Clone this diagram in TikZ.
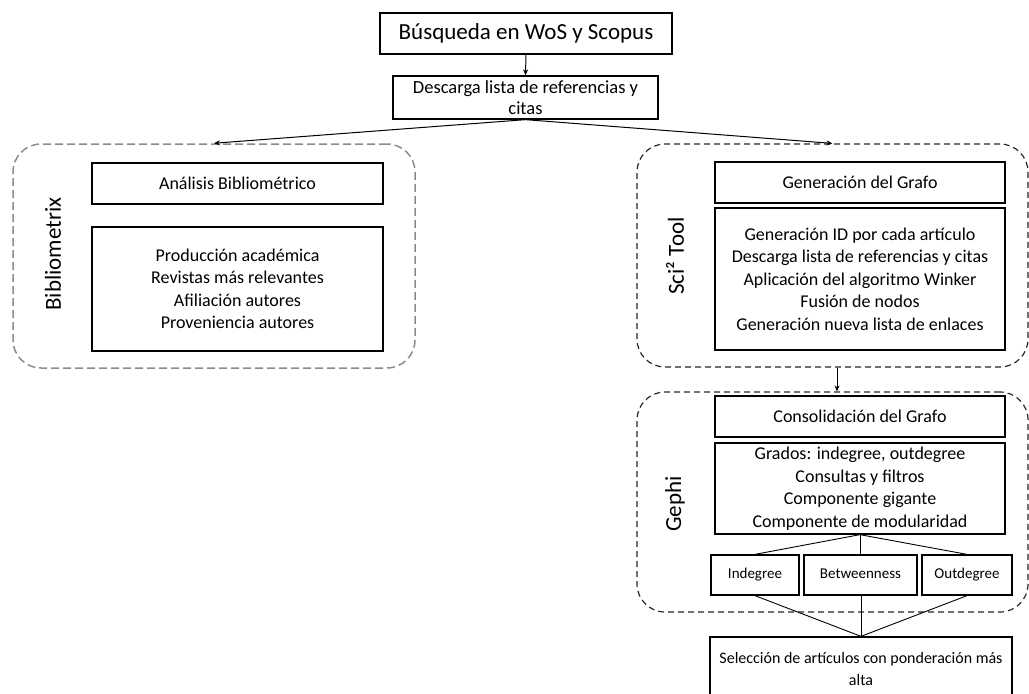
\documentclass[tikz,border=0pt]{standalone}
\usepackage{fontspec}
\setmainfont{Carlito}
\usetikzlibrary{arrows.meta}
\begin{document}
\begin{tikzpicture}[x=1pt,y=-1pt,
  box/.style={draw=black, line width=1.3pt, inner sep=0pt, align=center,
    font=\fontsize{18}{22.5}\selectfont},
  smallbox/.style={box, font=\fontsize{15}{18}\selectfont, text height=10.5pt, text depth=3.5pt},
  grpgray/.style={draw=black!45, dash pattern=on 8pt off 4pt, line width=1.5pt,
    rounded corners=28pt, inner sep=0pt},
  grpdark/.style={draw=black!85, dash pattern=on 6pt off 4pt, line width=1.2pt,
    rounded corners=28pt, inner sep=0pt},
  conn/.style={draw, line width=1pt, -{Stealth[length=6pt,width=5pt]}},
  link/.style={draw, line width=0.9pt},
  side/.style={rotate=90, inner sep=0pt, font=\fontsize{23}{26}\selectfont}
]
\useasboundingbox (0,0) rectangle (1029,694);

% top
\node[box, font=\fontsize{23}{26}\selectfont, minimum width=292, minimum height=41] (busq) at (526,33.5) {Búsqueda en WoS y Scopus};
\node[box, font=\fontsize{18.5}{21}\selectfont, minimum width=265, minimum height=43] (desc) at (525.5,97.5) {Descarga lista de referencias y\\citas};

% Bibliometrix group
\node[grpgray, minimum width=402, minimum height=224] (bib) at (214,256) {};
\node[side] (bibl) at (53,254) {Bibliometrix};
\node[box, minimum width=291, minimum height=41] (anal) at (237.5,183.5) {Análisis Bibliométrico};
\node[box, minimum width=291, minimum height=124] (biblist) at (237.5,289) {Producción académica\\Revistas más relevantes\\Afiliación autores\\Proveniencia autores};

% Sci2 group
\node[grpdark, minimum width=391, minimum height=223] (sci) at (832.5,255.5) {};
\node[side] (scil) at (675,256) {Sci² Tool};
\node[box, minimum width=290, minimum height=41] (gen) at (860,182.5) {Generación del Grafo};
\node[box, minimum width=290, minimum height=142] (genlist) at (860,279) {Generación ID por cada artículo\\Descarga lista de referencias y citas\\Aplicación del algoritmo Winker\\Fusión de nodos\\Generación nueva lista de enlaces};

% Gephi group
\node[grpdark, minimum width=391, minimum height=220] (gephi) at (832.5,502) {};
\node[side] (gephil) at (675,504) {Gephi};
\node[box, minimum width=290, minimum height=41] (cons) at (860,416.5) {Consolidación del Grafo};
\node[box, font=\fontsize{18}{22.7}\selectfont, minimum width=290, minimum height=91] (conslist) at (860,488.5) {\rule{0pt}{13pt}Grados: indegree, outdegree\\Consultas y filtros\\Componente gigante\\Componente de modularidad};
\node[smallbox, minimum width=88, minimum height=40] (ind) at (755,575) {Indegree};
\node[smallbox, minimum width=113, minimum height=40] (bet) at (860.5,575) {Betweenness};
\node[smallbox, minimum width=90, minimum height=40] (out) at (967,575) {Outdegree};

% final
\node[box, font=\fontsize{16}{22}\selectfont, minimum width=302, minimum height=64] (sel) at (861,669) {Selección de artículos con ponderación más\\alta};

% connectors
\draw[conn] (busq.south) -- (desc.north);
\draw[conn] (desc.south) -- (bib.north);
\draw[conn] (desc.south) -- (sci.north);
\draw[conn] (sci.south -| 837,0) -- (gephi.north -| 837,0);
\draw[link] (conslist.south) -- (ind.north);
\draw[link] (conslist.south) -- (bet.north -| conslist.south);
\draw[link] (conslist.south) -- (out.north);
\draw[link] (ind.south) -- (sel.north);
\draw[link] (bet.south -| sel.north) -- (sel.north);
\draw[link] (out.south) -- (sel.north);
\end{tikzpicture}
\end{document}
